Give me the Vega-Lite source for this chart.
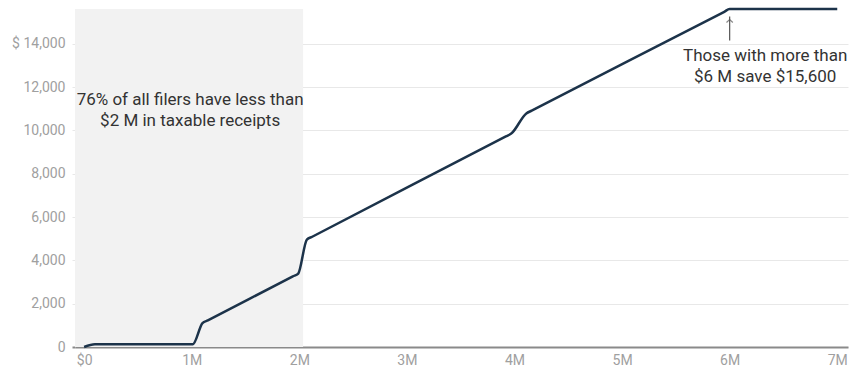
{
  "$schema": "https://vega.github.io/schema/vega-lite/v6.json",
  "width": 773,
  "height": 338,
  "autosize": {"type": "none"},
  "padding": {"left": 75, "top": 9, "right": 13, "bottom": 25},
  "background": "#ffffff",
  "config": {
    "font": "Roboto",
    "view": {"stroke": null},
    "axis": {"labelFont": "Roboto", "labelColor": "#a0a0a0", "labelFontSize": 14}
  },
  "datasets": {
    "line": [
      {"x": 0, "y": 0},
      {"x": 0.1, "y": 125},
      {"x": 0.15, "y": 125},
      {"x": 0.96, "y": 125},
      {"x": 1.01, "y": 125},
      {"x": 1.1, "y": 1100},
      {"x": 1.15, "y": 1229},
      {"x": 1.94, "y": 3261},
      {"x": 1.99, "y": 3390},
      {"x": 2.07, "y": 4960},
      {"x": 2.12, "y": 5089},
      {"x": 3.92, "y": 9721},
      {"x": 3.97, "y": 9850},
      {"x": 4.11, "y": 10780},
      {"x": 4.16, "y": 10908},
      {"x": 5.95, "y": 15472},
      {"x": 6.0, "y": 15600},
      {"x": 6.05, "y": 15600},
      {"x": 7.0, "y": 15600}
    ],
    "shade": [{"x": -0.085, "x2": 2.035, "y": 0, "y2": 15600}],
    "notes": [
      {"x": 0.985, "y": 11390, "text": ["76% of all filers have less than", "$2 M in taxable receipts"]},
      {"x": 6.33, "y": 13425, "text": ["Those with more than", "$6 M save $15,600"]}
    ],
    "arrow": [{"x": 6.0, "y": 14150, "y2": 15250}]
  },
  "layer": [
    {
      "data": {"name": "shade"},
      "mark": {"type": "rect", "color": "#f2f2f2"},
      "encoding": {
        "x": {"field": "x", "type": "quantitative", "scale": {"domain": [-0.085, 7.1], "nice": false, "zero": false},
          "axis": {"values": [0, 1, 2, 3, 4, 5, 6, 7], "labelExpr": "datum.value == 0 ? '$0' : datum.value + 'M'", "grid": false, "ticks": false, "domain": true, "domainColor": "#8a8a8a", "domainWidth": 2, "labelPadding": 6, "title": null}},
        "x2": {"field": "x2"},
        "y": {"field": "y", "type": "quantitative", "scale": {"domain": [0, 15600], "nice": false},
          "axis": {"values": [0, 2000, 4000, 6000, 8000, 10000, 12000, 14000], "labelExpr": "datum.value == 14000 ? '$ 14,000' : format(datum.value, ',')", "grid": true, "gridColor": "#e8e8e8", "gridWidth": 1, "domain": false, "tickSize": 3, "tickColor": {"condition": {"test": "datum.value === 0", "value": "#8a8a8a"}, "value": "#e8e8e8"}, "tickWidth": {"condition": {"test": "datum.value === 0", "value": 2}, "value": 1}, "labelPadding": 7, "title": null}},
        "y2": {"field": "y2"}
      }
    },
    {
      "data": {"name": "line"},
      "mark": {"type": "line", "color": "#1c334a", "strokeWidth": 2.5, "interpolate": "monotone"},
      "encoding": {
        "x": {"field": "x", "type": "quantitative"},
        "y": {"field": "y", "type": "quantitative"}
      }
    },
    {
      "data": {"name": "arrow"},
      "mark": {"type": "rule", "color": "#555555", "strokeWidth": 1.2},
      "encoding": {
        "x": {"field": "x", "type": "quantitative"},
        "y": {"field": "y", "type": "quantitative"},
        "y2": {"field": "y2"}
      }
    },
    {
      "data": {"name": "arrow"},
      "mark": {"type": "point", "shape": "M-1,0.9L0,0L1,0.9", "filled": false, "stroke": "#555555", "strokeWidth": 1.2, "size": 40, "yOffset": 3},
      "encoding": {
        "x": {"field": "x", "type": "quantitative"},
        "y": {"field": "y2", "type": "quantitative"}
      }
    },
    {
      "data": {"name": "notes"},
      "mark": {"type": "text", "font": "Roboto", "fontSize": 17, "color": "#333333", "align": "center", "baseline": "middle", "lineHeight": 21},
      "encoding": {
        "x": {"field": "x", "type": "quantitative"},
        "y": {"field": "y", "type": "quantitative"},
        "text": {"field": "text"}
      }
    }
  ]
}
